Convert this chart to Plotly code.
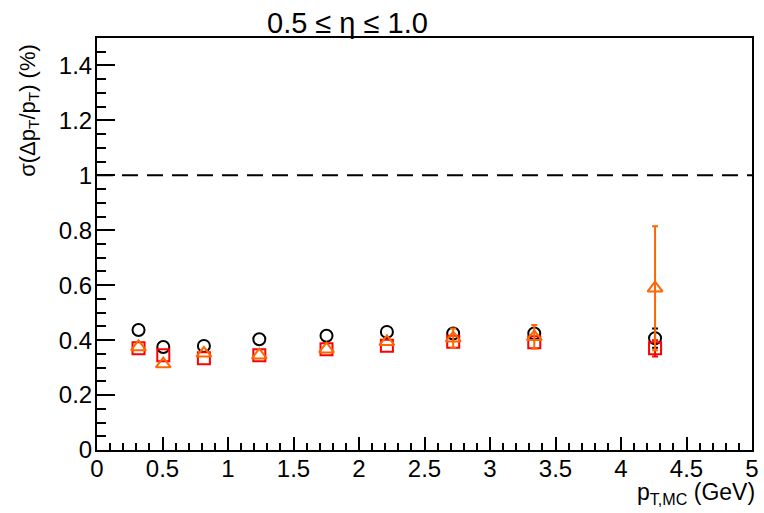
import plotly.graph_objects as go

# data
pt = [0.317, 0.506, 0.816, 1.239, 1.752, 2.213, 2.719, 3.338, 4.26]
circ_y = [0.437, 0.375, 0.379, 0.403, 0.416, 0.430, 0.424, 0.424, 0.407]
circ_err = [0, 0, 0, 0, 0, 0, 0, 0, 0.035]
sq_y = [0.370, 0.345, 0.334, 0.345, 0.367, 0.380, 0.394, 0.392, 0.370]
sq_err = [0, 0, 0, 0, 0, 0, 0, 0, 0.03]
tri_y = [0.375, 0.313, 0.352, 0.345, 0.367, 0.394, 0.407, 0.412, 0.589]
tri_err = [0, 0, 0, 0, 0, 0, 0.035, 0.043, 0.226]
ref_level = 1.0
x_ticks = [0, 0.5, 1, 1.5, 2, 2.5, 3, 3.5, 4, 4.5, 5]
x_ticklabels = ["0", "0.5", "1", "1.5", "2", "2.5", "3", "3.5", "4", "4.5", "5"]
y_ticks = [0, 0.2, 0.4, 0.6, 0.8, 1.0, 1.2, 1.4]
y_ticklabels = ["0", "0.2", "0.4", "0.6", "0.8", "1", "1.2", "1.4"]

FONT = "Liberation Sans, Arial, Helvetica, sans-serif"

fig = go.Figure()

fig.add_trace(go.Scatter(
    x=[0, 5], y=[ref_level, ref_level], mode="lines",
    line=dict(color="black", width=2, dash="16px,9px"), showlegend=False))


def add_series(ys, errs, symbol, size, color):
    # error bars only where the error is non-zero
    ex = [x for x, e in zip(pt, errs) if e > 0]
    ey = [y for y, e in zip(ys, errs) if e > 0]
    ee = [e for e in errs if e > 0]
    if ex:
        fig.add_trace(go.Scatter(
            x=ex, y=ey, mode="markers", marker=dict(size=1, opacity=0),
            error_y=dict(type="data", array=ee, color=color, thickness=2, width=3),
            showlegend=False, hoverinfo="skip"))
    fig.add_trace(go.Scatter(
        x=pt, y=ys, mode="markers",
        marker=dict(symbol=symbol, size=size, color=color, line=dict(width=2, color=color)),
        showlegend=False))


add_series(circ_y, circ_err, "circle-open", 12, "black")
add_series(sq_y, sq_err, "square-open", 12, "#ff0000")
add_series(tri_y, tri_err, "triangle-up-open", 13, "#ff6600")

fig.update_layout(
    width=764, height=513,
    margin=dict(l=97, r=5, t=38, b=63),
    paper_bgcolor="white", plot_bgcolor="white",
    font=dict(family=FONT, size=20, color="black"),
    xaxis=dict(
        range=[0, 5], showgrid=False, zeroline=False,
        showline=True, mirror=True, linecolor="black", linewidth=2,
        tickmode="array", tickvals=x_ticks, ticktext=x_ticklabels,
        ticks="inside", ticklen=13, tickwidth=2, tickcolor="black",
        minor=dict(dtick=0.1, ticks="inside", ticklen=7, tickwidth=2, tickcolor="black"),
        tickfont=dict(size=24), ticklabelstandoff=-4,
    ),
    yaxis=dict(
        range=[0, 1.5], showgrid=False, zeroline=False,
        showline=True, mirror=True, linecolor="black", linewidth=2,
        tickmode="array", tickvals=y_ticks, ticktext=y_ticklabels,
        ticks="inside", ticklen=18, tickwidth=2, tickcolor="black",
        minor=dict(dtick=0.05, ticks="inside", ticklen=9, tickwidth=2, tickcolor="black"),
        tickfont=dict(size=24), ticklabelstandoff=-2,
    ),
    annotations=[
        dict(text="0.5 ≤ η ≤ 1.0", xref="paper", yref="paper", x=0.382, y=1.0,
             xanchor="center", yanchor="bottom", yshift=-3, showarrow=False,
             font=dict(size=29)),
        dict(text="σ(Δp<sub>T</sub>/p<sub>T</sub>) (%)", xref="paper", yref="paper",
             x=-0.105, y=0.99, xanchor="center", yanchor="top", textangle=-90,
             showarrow=False, font=dict(size=22)),
        dict(text="p<sub>T,MC</sub> (GeV)", xref="paper", yref="paper",
             x=1.008, y=-0.066, xanchor="right", yanchor="top",
             showarrow=False, font=dict(size=23)),
    ],
)

fig.write_html("out.html")
